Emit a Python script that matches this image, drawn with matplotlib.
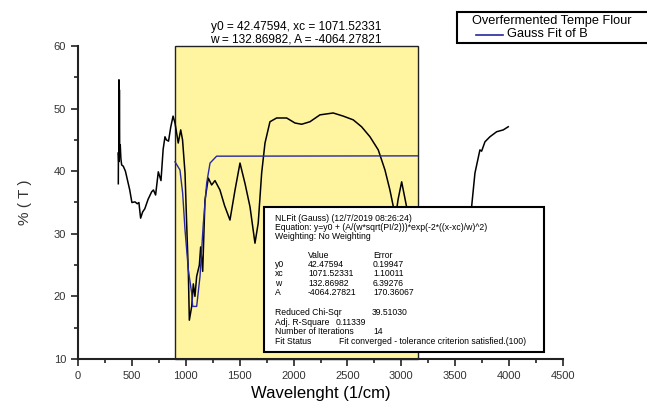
import matplotlib
matplotlib.use("Agg")
import matplotlib.pyplot as plt
from matplotlib.patches import Rectangle
from matplotlib.lines import Line2D

plt.rcParams['font.family'] = ['Liberation Sans', 'DejaVu Sans']

# ---- data ----
wavenumber = [374, 375, 378, 380, 382, 384, 387, 392, 398, 405, 420, 440, 460, 480,
              500, 529, 550, 565, 581, 600, 620, 650, 683, 700, 720, 745, 770, 790,
              807, 820, 840, 860, 882, 900, 930, 953, 970, 993, 1008, 1024, 1033,
              1055, 1070, 1085, 1101, 1126, 1138, 1157, 1178, 1209, 1240, 1271,
              1317, 1360, 1410, 1457, 1503, 1550, 1596, 1642, 1672, 1704, 1735,
              1781, 1843, 1936, 2013, 2075, 2152, 2245, 2368, 2461, 2554, 2631,
              2709, 2786, 2848, 2894, 2925, 2945, 2970, 3003, 3049, 3100, 3200,
              3300, 3400, 3500, 3600, 3652, 3683, 3729, 3745, 3776, 3822, 3884,
              3946, 3992]
transmittance = [38.0, 43.0, 41.5, 54.6, 44.0, 53.0, 42.5, 44.2, 42.0, 41.0, 40.8,
                 40.0, 38.5, 37.0, 35.0, 35.1, 34.8, 35.0, 32.5, 33.5, 34.0, 35.5,
                 36.7, 37.0, 36.2, 39.9, 38.5, 43.5, 45.5, 45.0, 44.8, 47.0, 48.8,
                 47.7, 44.5, 46.6, 45.0, 39.7, 31.7, 23.7, 16.2, 18.4, 22.0, 20.0,
                 23.2, 25.0, 27.9, 24.0, 35.4, 38.9, 37.8, 38.5, 37.0, 34.5, 32.2,
                 37.0, 41.3, 38.0, 34.3, 28.5, 31.7, 39.7, 44.5, 47.9, 48.5, 48.5,
                 47.7, 47.5, 47.9, 49.0, 49.3, 48.8, 48.2, 47.1, 45.5, 43.4, 40.2,
                 37.0, 34.4, 32.5, 35.5, 38.3, 34.3, 30.0, 26.0, 24.0, 25.0, 28.0,
                 31.5, 34.3, 39.7, 43.4, 43.2, 44.7, 45.5, 46.3, 46.6, 47.1]

fit_x = [900, 946, 971, 993, 1024, 1055, 1064, 1101, 1132, 1163, 1194, 1225, 1286, 3150]
fit_y = [41.5, 40.2, 36.5, 30.6, 24.2, 20.5, 18.4, 18.4, 23.2, 31.7, 38.1, 41.3, 42.4, 42.45]

fit_range = [900, 3150]
x_ticks = [0, 500, 1000, 1500, 2000, 2500, 3000, 3500, 4000, 4500]
y_ticks = [10, 20, 30, 40, 50, 60]

title_lines = ["y0 = 42.47594, xc = 1071.52331", "w = 132.86982, A = -4064.27821"]
legend_labels = ["Overfermented Tempe Flour", "Gauss Fit of B"]

W, H = 647, 401
fig = plt.figure(figsize=(W / 100, H / 100), dpi=100)
fig.patch.set_facecolor('white')


def fp(x, y):
    return (x / W, 1 - y / H)


ax = fig.add_axes([78 / W, 1 - 359 / H, (563 - 78) / W, (359 - 46) / H])
ax.set_xlim(0, 4500)
ax.set_ylim(10, 60)

# yellow fit-range region
ax.add_patch(Rectangle((fit_range[0], 10), fit_range[1] - fit_range[0], 50,
                       facecolor='#FFF5A0', edgecolor='#222222', linewidth=1.0,
                       zorder=1, clip_on=False))

ax.plot(wavenumber, transmittance, color='black', linewidth=1.1, zorder=3)
ax.plot(fit_x, fit_y, color='#2828A0', linewidth=1.0, zorder=4)

for sp in ['top', 'right']:
    ax.spines[sp].set_visible(False)
for sp in ['left', 'bottom']:
    ax.spines[sp].set_linewidth(1.5)
    ax.spines[sp].set_color('#222222')
    ax.spines[sp].set_zorder(6)

ax.set_xticks(x_ticks)
ax.set_yticks(y_ticks)
ax.set_xticks([250 + 500 * i for i in range(9)], minor=True)
ax.set_yticks([15, 25, 35, 45, 55], minor=True)
ax.tick_params(axis='both', which='major', direction='out', length=5, width=1.2,
               labelsize=8, colors='#222222', labelcolor='#333333')
ax.tick_params(axis='both', which='minor', direction='out', length=3, width=1.2,
               colors='#222222')
ax.set_xlabel("Wavelenght (1/cm)", fontsize=12, labelpad=4)
ax.set_ylabel("% ( T )", fontsize=11, labelpad=16, color='#333333')

# title lines above the fit region (figure pixel positions)
tx, ty = fp(296, 27)
fig.text(tx, ty, title_lines[0], ha='center', va='center', fontsize=8.6)
tx, ty = fp(296, 40)
fig.text(tx, ty, title_lines[1], ha='center', va='center', fontsize=8.6)

# NLFit result box
x0, y0 = fp(264, 352)
x1, y1 = fp(544, 207)
fig.patches.append(Rectangle((x0, y0), x1 - x0, y1 - y0, transform=fig.transFigure,
                             facecolor='white', edgecolor='black', linewidth=1.5,
                             zorder=10))
fs = 6.2
rows = [
    (218.3, [(275, "NLFit (Gauss) (12/7/2019 08:26:24)")]),
    (227.5, [(275, "Equation: y=y0 + (A/(w*sqrt(PI/2)))*exp(-2*((x-xc)/w)^2)")]),
    (236.7, [(275, "Weighting: No Weighting")]),
    (255.7, [(308, "Value"), (373, "Error")]),
    (264.8, [(275, "y0"), (308, "42.47594"), (373, "0.19947")]),
    (273.9, [(275, "xc"), (308, "1071.52331"), (373, "1.10011")]),
    (283.0, [(275, "w"), (308, "132.86982"), (373, "6.39276")]),
    (292.1, [(275, "A"), (308, "-4064.27821"), (373, "170.36067")]),
    (312.7, [(275, "Reduced Chi-Sqr"), (372, "39.51030")]),
    (322.3, [(275, "Adj. R-Square"), (336, "0.11339")]),
    (332.0, [(275, "Number of Iterations"), (373, "14")]),
    (341.5, [(275, "Fit Status"), (339, "Fit converged - tolerance criterion satisfied.(100)")]),
]
for py, items in rows:
    for px, s in items:
        fx, fy = fp(px, py)
        fig.text(fx, fy, s, ha='left', va='center', fontsize=fs, zorder=11)

# legend box (runs off the right edge, as in the reference)
lx0, ly0 = fp(457, 43)
lx1, ly1 = fp(700, 12)
fig.patches.append(Rectangle((lx0, ly0), lx1 - lx0, ly1 - ly0, transform=fig.transFigure,
                             facecolor='white', edgecolor='black', linewidth=1.5,
                             zorder=10))
tx, ty = fp(472, 21)
fig.text(tx, ty, legend_labels[0], ha='left', va='center', fontsize=9.2, zorder=11)
a, b = fp(476, 34.5)
c, _ = fp(503, 34.5)
fig.lines.append(Line2D([a, c], [b, b], transform=fig.transFigure, color='#2828A0',
                        linewidth=1.2, zorder=11))
tx, ty = fp(507, 34)
fig.text(tx, ty, legend_labels[1], ha='left', va='center', fontsize=9.2, zorder=11)

fig.savefig("out.png", dpi=100)
